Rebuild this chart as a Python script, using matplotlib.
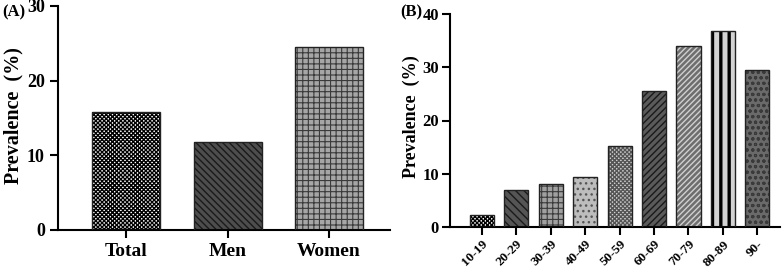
import numpy as np
import matplotlib
matplotlib.use('Agg')
import matplotlib.pyplot as plt

plt.rcParams['font.family'] = 'Liberation Serif'
plt.rcParams['font.weight'] = 'bold'

# data
groups_a = ['Total', 'Men', 'Women']
prev_a = [15.8, 11.8, 24.5]

groups_b = ['10-19', '20-29', '30-39', '40-49', '50-59', '60-69', '70-79', '80-89', '90-']
prev_b = [2.25, 6.9, 8.0, 9.3, 15.3, 25.5, 33.9, 36.9, 29.5]

# fill colour, hatch, hatch colour, hatch width
style_a = [('white', 'xxxxxxxx', 'black', 1.0),
           ('#4d4d4d', '\\\\\\\\\\', '#1a1a1a', 1.0),
           ('#a6a6a6', '+++', '#3a3a3a', 0.8)]
style_b = [('white', 'xxxxxxxx', 'black', 1.0),
           ('#555555', '\\\\\\\\', '#1a1a1a', 1.0),
           ('#a0a0a0', '+++', '#3a3a3a', 0.8),
           ('#bdbdbd', '...', '#555555', 1.0),
           ('#d0d0d0', 'xxxxxxxx', '#555555', 1.0),
           ('#5a5a5a', '/////', '#1a1a1a', 1.0),
           ('#6e6e6e', '//////', '#d0d0d0', 1.0),
           ('#d3d3d3', '||', 'black', 2.4),
           ('#6a6a6a', 'ooo', '#3a3a3a', 0.8)]


def draw_bars(ax, x, vals, styles, width):
    for xi, v, (fc, h, hc, hw) in zip(x, vals, styles):
        with plt.rc_context({'hatch.linewidth': hw}):
            ax.bar(xi, v, width, color=fc, hatch=h, edgecolor=hc, linewidth=0, zorder=2)
        ax.bar(xi, v, width, fill=False, edgecolor='#222222', linewidth=1.0, zorder=3)


def style_axis(ax):
    for s in ['top', 'right']:
        ax.spines[s].set_visible(False)
    ax.spines['left'].set_linewidth(1.5)
    ax.spines['bottom'].set_linewidth(1.5)
    ax.tick_params(width=1.5, length=6)


fig = plt.figure(figsize=(7.83, 2.70), dpi=100)

# panel A
ax1 = fig.add_axes([58/783, 40/270, 332/783, 224/270])
xa = np.arange(len(groups_a))
draw_bars(ax1, xa, prev_a, style_a, 0.67)
ax1.set_xlim(-0.67, 2.6)
ax1.set_ylim(0, 30)
ax1.set_yticks([0, 10, 20, 30])
ax1.set_xticks(xa)
ax1.set_xticklabels(groups_a, fontsize=14, fontweight='bold')
ax1.tick_params(axis='y', labelsize=13)
ax1.spines['left'].set_bounds(0, 30)
ax1.set_ylabel('Prevalence  (%)', fontsize=14.5, fontweight='bold')
ax1.yaxis.set_label_coords(-0.105, 0.51)
style_axis(ax1)
fig.text(2/783, 1 - 12/270, '(A)', fontsize=12, fontweight='bold', va='center')

# panel B
ax2 = fig.add_axes([450/783, 43/270, 330/783, 213/270])
xb = np.arange(len(groups_b))
draw_bars(ax2, xb, prev_b, style_b, 0.7)
ax2.set_xlim(-0.93, 8.66)
ax2.set_ylim(0, 40)
ax2.set_yticks([0, 10, 20, 30, 40])
ax2.set_xticks(xb)
ax2.set_xticklabels(groups_b, fontsize=9.5, fontweight='bold', rotation=45, ha='right',
                    rotation_mode='anchor')
ax2.tick_params(axis='x', pad=2)
ax2.tick_params(axis='y', labelsize=12, pad=2)
ax2.set_ylabel('Prevalence  (%)', fontsize=13, fontweight='bold')
ax2.yaxis.set_label_coords(-0.092, 0.52)
style_axis(ax2)
fig.text(400/783, 1 - 12/270, '(B)', fontsize=12, fontweight='bold', va='center')

fig.savefig('out.png', dpi=100)
